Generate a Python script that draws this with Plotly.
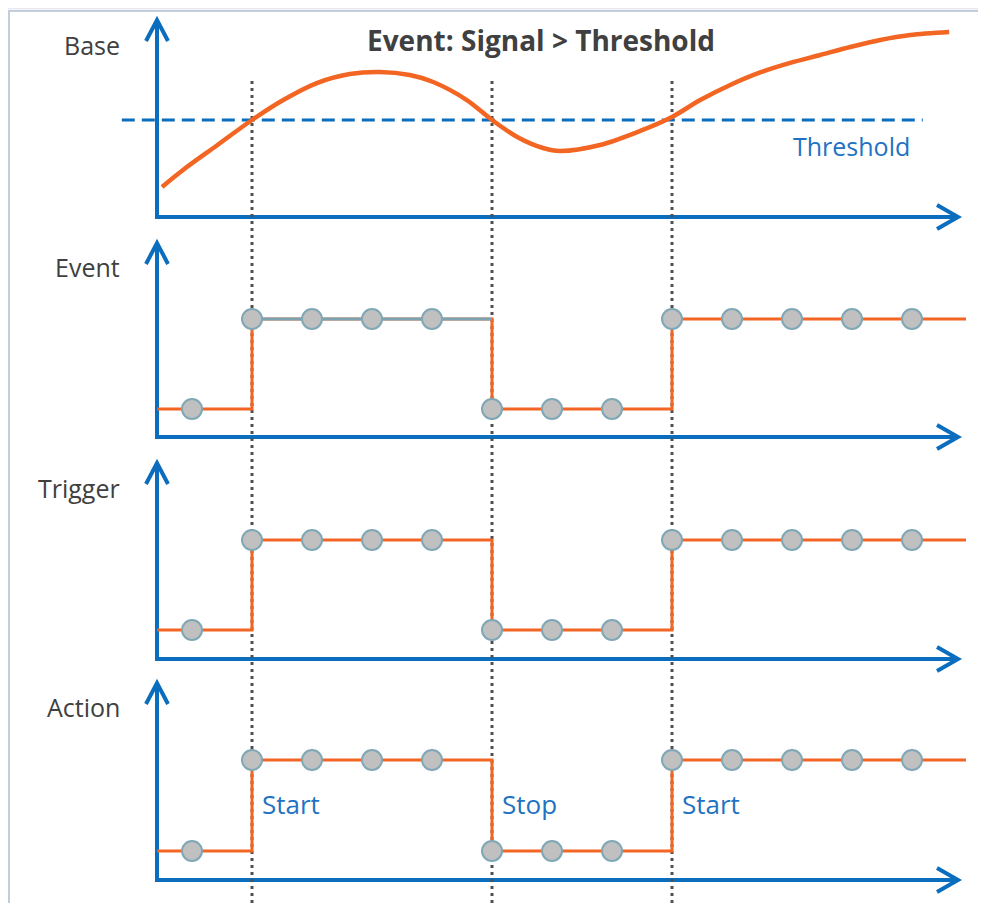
import plotly.graph_objects as go

# ---------------- data ----------------
sample_t = [1, 2, 3, 4, 5, 6, 7, 8, 9, 10, 11, 12, 13]
event_vals = [0, 1, 1, 1, 1, 0, 0, 0, 1, 1, 1, 1, 1]
trigger_vals = [0, 1, 1, 1, 1, 0, 0, 0, 1, 1, 1, 1, 1]
action_vals = [0, 1, 1, 1, 1, 0, 0, 0, 1, 1, 1, 1, 1]
line_start_t, line_end_t = 0.42, 13.9

signal_t = [0.5, 0.85, 1.42, 2.0, 2.52, 3.08, 3.63, 4.13, 4.63, 5.02, 5.58, 6.0,
            6.42, 6.85, 7.13, 7.8, 8.47, 9.0, 9.47, 9.97, 10.47, 10.97,
            11.47, 11.97, 12.47, 12.97, 13.62]
signal_v = [0.31, 0.485, 0.74, 1.0, 1.206, 1.381, 1.474, 1.495, 1.464, 1.392, 1.206, 1.0,
            0.825, 0.711, 0.68, 0.742, 0.887, 1.031, 1.206, 1.361, 1.49, 1.588,
            1.670, 1.753, 1.825, 1.876, 1.907]
threshold = 1.0
threshold_span = [-0.17, 13.18]

cross_t = [2, 6, 9]
action_labels = ["Start", "Stop", "Start"]
panel_titles = ["Base", "Event", "Trigger", "Action"]
chart_title = "Event: Signal > Threshold"

# ---------------- layout helpers ----------------
OX, OY = 8, 8          # page body margin
W, H = 986 - OX, 903 - OY
ORANGE = "#F26522"
BLUE = "#0A6DBD"
TXTBLUE = "#2272C3"
GRAY = "#404040"
FONT = "Open Sans, sans-serif"

def t_of(xref_px):
    return (xref_px - 132) / 60.0

# panel: (baseline row, px per unit, band top, band bottom, axis row, arrow tip row) in reference pixels
panels = [
    (217, 97, 8, 226, 217, 20),
    (409, 90, 226, 450, 437, 243),
    (630, 90, 450, 670, 659, 463),
    (851, 91, 670, 903, 880, 683),
]

def yp(row):
    return 1 - (row - OY) / H

def xp(col):
    return (col - OX) / W

fig = go.Figure()

layout = dict(
    width=W, height=H, margin=dict(l=0, r=0, t=0, b=0),
    paper_bgcolor="white", plot_bgcolor="rgba(0,0,0,0)", showlegend=False,
    xaxis=dict(range=[t_of(OX), t_of(986)], domain=[0, 1], visible=False, fixedrange=True),
)
for i, (b, s, top, bot, _, _) in enumerate(panels):
    name = "yaxis" if i == 0 else f"yaxis{i+1}"
    layout[name] = dict(
        domain=[yp(bot), yp(top)],
        range=[(b - bot) / s, (b - top) / s],
        visible=False, fixedrange=True, anchor="x",
    )
fig.update_layout(**layout)

# threshold line + signal
fig.add_trace(go.Scatter(x=threshold_span, y=[threshold, threshold], mode="lines",
                         line=dict(color=BLUE, width=3, dash="13px,7px"), yaxis="y", hoverinfo="skip"))
fig.add_trace(go.Scatter(x=signal_t, y=signal_v, mode="lines", line_shape="spline",
                         line=dict(color=ORANGE, width=4.5, smoothing=0.9), yaxis="y", hoverinfo="skip"))

# step panels
for vals, yr in [(event_vals, "y2"), (trigger_vals, "y3"), (action_vals, "y4")]:
    fig.add_trace(go.Scatter(x=[line_start_t] + sample_t + [line_end_t],
                             y=[vals[0]] + vals + [vals[-1]], mode="lines", line_shape="hv",
                             line=dict(color=ORANGE, width=3), yaxis=yr, hoverinfo="skip"))
    if yr == "y2":
        fig.add_trace(go.Scatter(x=[cross_t[0], cross_t[1]], y=[1, 1], mode="lines",
                                 line=dict(color="#7BA3B1", width=3), yaxis=yr, hoverinfo="skip"))
    fig.add_trace(go.Scatter(x=sample_t, y=vals, mode="markers",
                             marker=dict(size=20, color="#C0C0C0", line=dict(color="#7FA7B5", width=2)),
                             yaxis=yr, hoverinfo="skip"))

shapes = []
# frame with soft shadow
shapes.append(dict(type="rect", xref="paper", yref="paper", x0=xp(6), x1=1.02, y0=-0.02, y1=yp(8),
                   line=dict(color="#E6EAF0", width=3), layer="below"))
shapes.append(dict(type="rect", xref="paper", yref="paper", x0=xp(9), x1=1.02, y0=-0.02, y1=yp(11),
                   line=dict(color="#C3CDDB", width=2), layer="below"))

def px(x, y):
    return f"{xp(x):.5f},{yp(y):.5f}"

for (b, s, top, bot, ax_row, tip) in panels:
    shapes.append(dict(type="path", xref="paper", yref="paper",
                       path=f"M{px(157, ax_row + 2)} L{px(157, tip + 1)}",
                       line=dict(color=BLUE, width=4), layer="below"))
    shapes.append(dict(type="path", xref="paper", yref="paper",
                       path=f"M{px(146, tip + 21)} L{px(157, tip)} L{px(168, tip + 21)}",
                       line=dict(color=BLUE, width=4), layer="below"))
    shapes.append(dict(type="path", xref="paper", yref="paper",
                       path=f"M{px(155, ax_row)} L{px(956, ax_row)}",
                       line=dict(color=BLUE, width=4), layer="below"))
    shapes.append(dict(type="path", xref="paper", yref="paper",
                       path=f"M{px(937, ax_row - 12)} L{px(958, ax_row)} L{px(937, ax_row + 12)}",
                       line=dict(color=BLUE, width=4), layer="below"))

for ct in cross_t:
    shapes.append(dict(type="line", xref="x", yref="paper", x0=ct, x1=ct, y0=0, y1=yp(80),
                       line=dict(color="#505050", width=3, dash="3px,4px"), layer="below"))

fig.update_layout(shapes=shapes)

ann = []
ann.append(dict(text=f"<b>{chart_title}</b>", xref="paper", yref="paper", x=xp(541), y=yp(40),
                xanchor="center", yanchor="middle", showarrow=False,
                font=dict(family=FONT, size=28, color=GRAY)))
label_rows = [45, 267, 488, 707]
for title, row in zip(panel_titles, label_rows):
    ann.append(dict(text=title, xref="paper", yref="paper", x=xp(122), y=yp(row),
                    xanchor="right", yanchor="middle", showarrow=False,
                    font=dict(family=FONT, size=25, color=GRAY)))
ann.append(dict(text="Threshold", xref="x", yref="y", x=t_of(851), y=(217 - 146) / 97,
                xanchor="center", yanchor="middle", showarrow=False,
                font=dict(family=FONT, size=25, color=TXTBLUE)))
for ct, lab in zip(cross_t, action_labels):
    ann.append(dict(text=lab, xref="x", yref="y4", x=ct, y=0.52, xshift=8,
                    xanchor="left", yanchor="middle", showarrow=False,
                    font=dict(family=FONT, size=26, color=TXTBLUE)))
fig.update_layout(annotations=ann)

fig.write_html("out.html")
